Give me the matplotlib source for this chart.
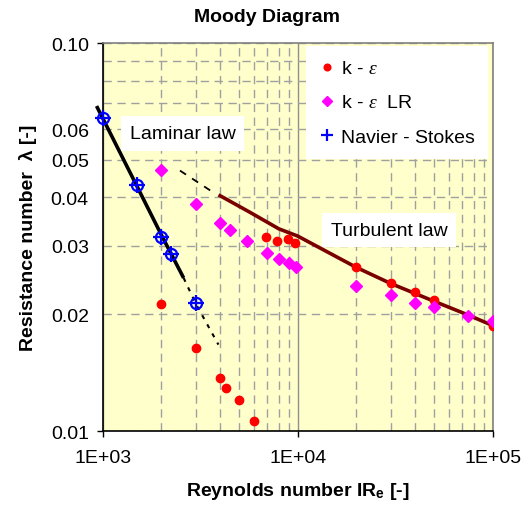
import matplotlib
matplotlib.use("Agg")
import matplotlib.pyplot as plt
from matplotlib.ticker import FixedLocator, LogLocator, NullFormatter, FuncFormatter

# ---------------- data ----------------
# k - epsilon
re_ke = [2000, 3000, 4000, 4300, 5000, 6000, 6900, 7800, 8900, 9700,
         20000, 30000, 40000, 50000, 100000]
lam_ke = [0.0213, 0.0164, 0.0137, 0.0129, 0.0120, 0.0106, 0.0316, 0.0309, 0.0313, 0.0306,
          0.0264, 0.0241, 0.0228, 0.0218, 0.0187]
# k - epsilon LR
re_lr = [2000, 3000, 4000, 4500, 5500, 7000, 8000, 9000, 9800,
         20000, 30000, 40000, 50000, 75000, 100000]
lam_lr = [0.0471, 0.0385, 0.0344, 0.0329, 0.0308, 0.0287, 0.0277, 0.0271, 0.0265,
          0.0237, 0.0224, 0.0214, 0.0209, 0.0198, 0.0192]
# Navier - Stokes
re_ns = [1000, 1500, 2000, 2250, 3000]
lam_ns = [0.0641, 0.0430, 0.0316, 0.0286, 0.0214]
# laminar law (solid part and dotted continuation)
re_lam = [930, 1000, 1500, 2000, 2600]
lam_lam = [0.0688, 0.0640, 0.0427, 0.0320, 0.0248]
re_lam_ext = [2600, 3000, 3920]
lam_lam_ext = [0.0248, 0.0213, 0.0167]
# turbulent law (solid part and dashed extension)
re_turb = [4000, 5700, 8000, 10000, 20000, 30000, 50000, 75000, 100000]
lam_turb = [0.0404, 0.0366, 0.0332, 0.0318, 0.0264, 0.0240, 0.0216, 0.0199, 0.0187]
re_turb_ext = [2490, 3690]
lam_turb_ext = [0.0469, 0.0412]

# ticks
x_ticks = [1e3, 1e4, 1e5]
x_ticklabels = ["1E+03", "1E+04", "1E+05"]
y_ticks = [0.01, 0.02, 0.03, 0.04, 0.05, 0.06, 0.07, 0.08, 0.09, 0.10]
y_labelled = {0.01: "0.01", 0.02: "0.02", 0.03: "0.03", 0.04: "0.04",
              0.05: "0.05", 0.06: "0.06", 0.10: "0.10"}

# ---------------- style ----------------
plt.rcParams['font.family'] = ['Liberation Sans', 'DejaVu Sans']
plt.rcParams['mathtext.fontset'] = 'custom'
plt.rcParams['mathtext.rm'] = 'Liberation Sans'
plt.rcParams['mathtext.it'] = 'Liberation Serif:italic'
plt.rcParams['mathtext.bf'] = 'Liberation Sans:bold'

FS = 14
fig = plt.figure(figsize=(5.27, 5.10), dpi=100)
ax = fig.add_axes([0.1949, 0.1529, 0.740, 0.7608])
ax.set_facecolor('#FFFFCC')
ax.set_xscale('log')
ax.set_yscale('log')
ax.set_xlim(1e3, 1e5)
ax.set_ylim(0.01, 0.10)

# grid
gcol = '#A0A0A0'
ax.xaxis.set_major_locator(FixedLocator(x_ticks))
ax.xaxis.set_major_formatter(FuncFormatter(lambda v, p: x_ticklabels[x_ticks.index(v)] if v in x_ticks else ""))
ax.xaxis.set_minor_locator(LogLocator(base=10, subs=range(2, 10)))
ax.xaxis.set_minor_formatter(NullFormatter())
ax.yaxis.set_major_locator(FixedLocator(y_ticks))
ax.yaxis.set_minor_locator(FixedLocator([]))


def yfmt(v, p):
    for k, s in y_labelled.items():
        if abs(k - v) < 1e-6:
            return s
    return ""


ax.yaxis.set_major_formatter(FuncFormatter(yfmt))
ax.grid(True, which='minor', axis='x', color=gcol, lw=1.0, ls=(0, (6, 4)), zorder=0)
ax.grid(True, which='major', axis='x', color='#909090', lw=1.0, ls='-', zorder=0)
ax.grid(True, which='major', axis='y', color=gcol, lw=1.0, ls=(0, (6, 4)), zorder=0)
ax.set_axisbelow(True)

ax.tick_params(axis='both', which='major', direction='out', length=4, width=1,
               labelsize=FS, pad=6, colors='black')
ax.tick_params(axis='x', which='major', pad=9)
ax.tick_params(axis='x', which='minor', length=0)
for t, v in zip(ax.yaxis.get_major_ticks(), y_ticks):
    if v not in (0.01, 0.10):
        t.tick1line.set_visible(False)

for s in ('top', 'right'):
    ax.spines[s].set_color('#808080')
    ax.spines[s].set_linewidth(1.2)
for s in ('left', 'bottom'):
    ax.spines[s].set_color('black')
    ax.spines[s].set_linewidth(1.2)

# ---------------- lines ----------------
ax.plot(re_lam, lam_lam, color='black', lw=2.6, solid_capstyle='butt', zorder=3, clip_on=False)
ax.plot(re_lam_ext, lam_lam_ext, color='black', lw=1.5, ls=(0, (2, 3)), zorder=3)
ax.plot(re_turb, lam_turb, color='#7A0000', lw=2.6, zorder=3)
ax.plot(re_turb_ext, lam_turb_ext, color='black', lw=1.3, ls=(0, (4, 4)), zorder=3)

# ---------------- markers ----------------
h1, = ax.plot(re_ke, lam_ke, ls='none', marker='o', ms=6, color='#FF0000', mec='#FF0000',
              zorder=4, label=r'k - $\varepsilon$')
h2, = ax.plot(re_lr, lam_lr, ls='none', marker='D', ms=6, color='#FF00FF', mec='#FF00FF',
              zorder=5, label=r'k - $\varepsilon$  LR')
ax.plot(re_ns, lam_ns, ls='none', marker='o', ms=8, mfc='none', mec='#0000FF', mew=1.6,
        zorder=6, clip_on=False)
h3, = ax.plot(re_ns, lam_ns, ls='none', marker='+', ms=11, color='#0000FF', mew=1.6,
              zorder=6, clip_on=False, label='Navier - Stokes')

leg = ax.legend(handles=[h1, h2, h3], loc='upper right', bbox_to_anchor=(0.988, 0.992),
                fontsize=FS, frameon=True, fancybox=False, borderaxespad=0,
                labelspacing=0.85, handlelength=0.7, handletextpad=0.35,
                borderpad=0.7, markerscale=0.8)
leg.get_frame().set_facecolor('white')
leg.get_frame().set_edgecolor('none')
leg.get_frame().set_alpha(1)
leg.set_zorder(7)

# ---------------- text boxes ----------------
box = dict(boxstyle='square,pad=0.45', fc='white', ec='none')
ax.text(0.2046, 0.7668, 'Laminar law', transform=ax.transAxes, ha='center', va='center',
        fontsize=FS, bbox=box, zorder=7)
ax.text(0.734, 0.518, 'Turbulent law', transform=ax.transAxes, ha='center', va='center',
        fontsize=FS, bbox=box, zorder=7)

# ---------------- titles ----------------
fig.text(0.507, 0.965, 'Moody Diagram', ha='center', va='center', fontsize=14, fontweight='bold')
ax.set_xlabel(r'Reynolds number IR$_{\mathbf{e}}$ [-]', fontsize=14, fontweight='bold', labelpad=10)
ax.set_ylabel('Resistance number  λ [-]', fontsize=14, fontweight='bold', labelpad=10)

fig.savefig('out.png', dpi=100)
